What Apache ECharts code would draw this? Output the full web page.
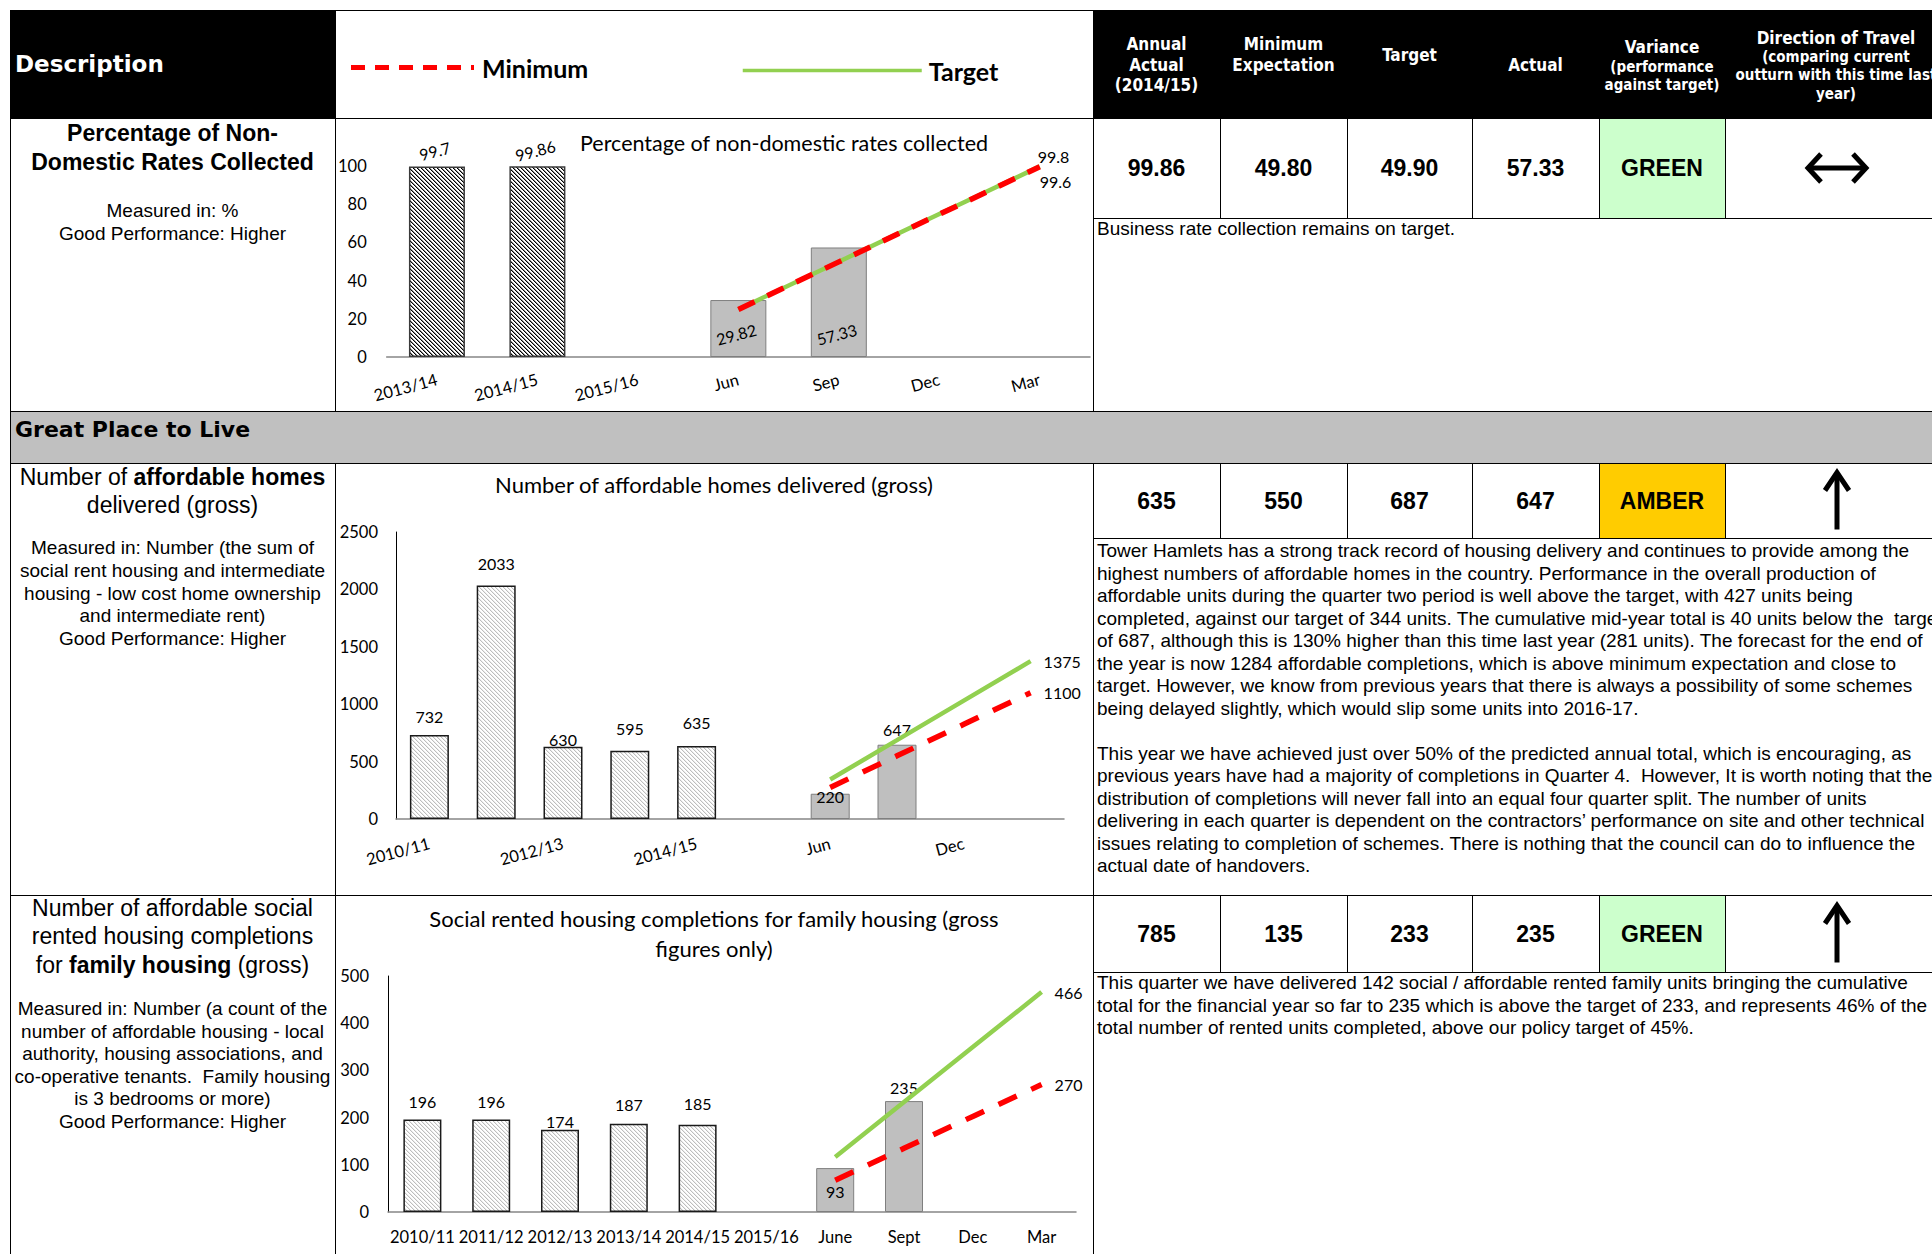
<!DOCTYPE html>
<html>
<head>
<meta charset="utf-8">
<script src="https://cdn.jsdelivr.net/npm/echarts@6/dist/echarts.min.js"></script>
<style>
html,body{margin:0;padding:0;background:#fff;}
body{width:1932px;height:1254px;overflow:hidden;position:relative;font-family:"Liberation Sans",Arial,sans-serif;color:#000;}
.ln{position:absolute;background:#000;z-index:20;}
.bg{position:absolute;z-index:1;}
.hd{position:absolute;color:#fff;font-family:"DejaVu Sans Condensed","DejaVu Sans",sans-serif;font-stretch:condensed;font-weight:bold;text-align:center;white-space:nowrap;z-index:5;line-height:20px;}
.val{position:absolute;font-weight:bold;font-size:23px;text-align:center;z-index:5;line-height:26px;white-space:nowrap;}
.dsc{position:absolute;left:10px;width:325px;text-align:center;white-space:pre;z-index:5;}
.cm{position:absolute;left:1097px;font-size:19px;line-height:22px;white-space:pre;z-index:5;}
.chart{position:absolute;z-index:10;}
.big{position:absolute;font-family:"DejaVu Sans",sans-serif;font-weight:bold;white-space:nowrap;z-index:5;}
</style>
</head>
<body>
<div id="c1" class="chart" style="left:335px;top:10px;width:758px;height:402px;"></div>
<div id="c2" class="chart" style="left:335px;top:463px;width:758px;height:432px;"></div>
<div id="c3" class="chart" style="left:335px;top:895px;width:758px;height:359px;"></div>
<script>
// ---------------- DATA ----------------
const rateCategories = ['2013/14', '2014/15', '2015/16', 'Jun', 'Sep', 'Dec', 'Mar'];
const rateAnnual = [99.7, 99.86, null, null, null, null, null];
const rateCurrent = [null, null, null, 29.82, 57.33, null, null];
const rateTarget = [null, null, null, 24.95, 49.9, 74.85, 99.8];
const rateMinimum = [null, null, null, 24.9, 49.8, 74.7, 99.6];

const homesCategories = ['2010/11', '2011/12', '2012/13', '2013/14', '2014/15', '2015/16', 'Jun', 'Sep', 'Dec', 'Mar'];
const homesAnnual = [732, 2033, 630, 595, 635, null, null, null, null, null];
const homesCurrent = [null, null, null, null, null, null, 220, 647, null, null];
const homesTarget = [null, null, null, null, null, null, 344, 687, 1031, 1375];
const homesMinimum = [null, null, null, null, null, null, 275, 550, 825, 1100];

const familyCategories = ['2010/11', '2011/12', '2012/13', '2013/14', '2014/15', '2015/16', 'June', 'Sept', 'Dec', 'Mar'];
const familyAnnual = [196, 196, 174, 187, 185, null, null, null, null, null];
const familyCurrent = [null, null, null, null, null, null, 93, 235, null, null];
const familyTarget = [null, null, null, null, null, null, 116.5, 233, 349.5, 466];
const familyMinimum = [null, null, null, null, null, null, 67.5, 135, 202.5, 270];

const chartTitles = [
  'Percentage of non-domestic rates collected',
  'Number of affordable homes delivered (gross)',
  'Social rented housing completions for family housing (gross\nfigures only)'
];
const legendNames = ['Minimum', 'Target'];

const tableHeaders = [
  ['Annual', 'Actual', '(2014/15)'],
  ['Minimum', 'Expectation'],
  ['Target'],
  ['Actual'],
  ['Variance', '(performance', 'against target)'],
  ['Direction of Travel', '(comparing current', 'outturn with this time last', 'year)']
];
const tableAnnualActual = ['99.86', '635', '785'];
const tableMinimum = ['49.80', '550', '135'];
const tableTarget = ['49.90', '687', '233'];
const tableActual = ['57.33', '647', '235'];
const tableVariance = ['GREEN', 'AMBER', 'GREEN'];
const tableDirection = ['same', 'up', 'up'];

const descTitles = [
  ['<b>Percentage of Non-</b>', '<b>Domestic Rates Collected</b>'],
  ['Number of <b>affordable homes</b>', 'delivered (gross)'],
  ['Number of affordable social', 'rented housing completions', 'for <b>family housing</b> (gross)']
];
const descSubs = [
  ['Measured in: %', 'Good Performance: Higher'],
  ['Measured in: Number (the sum of', 'social rent housing and intermediate', 'housing - low cost home ownership', 'and intermediate rent)', 'Good Performance: Higher'],
  ['Measured in: Number (a count of the', 'number of affordable housing - local', 'authority, housing associations, and', 'co-operative tenants.  Family housing', 'is 3 bedrooms or more)', 'Good Performance: Higher']
];
const comments = [
  ['Business rate collection remains on target.'],
  ['Tower Hamlets has a strong track record of housing delivery and continues to provide among the',
   'highest numbers of affordable homes in the country. Performance in the overall production of',
   'affordable units during the quarter two period is well above the target, with 427 units being',
   'completed, against our target of 344 units. The cumulative mid-year total is 40 units below the  target',
   'of 687, although this is 130% higher than this time last year (281 units). The forecast for the end of',
   'the year is now 1284 affordable completions, which is above minimum expectation and close to',
   'target. However, we know from previous years that there is always a possibility of some schemes',
   'being delayed slightly, which would slip some units into 2016-17.',
   '',
   'This year we have achieved just over 50% of the predicted annual total, which is encouraging, as',
   'previous years have had a majority of completions in Quarter 4.  However, It is worth noting that the',
   'distribution of completions will never fall into an equal four quarter split. The number of units',
   'delivering in each quarter is dependent on the contractors\u2019 performance on site and other technical',
   'issues relating to completion of schemes. There is nothing that the council can do to influence the',
   'actual date of handovers.'],
  ['This quarter we have delivered 142 social / affordable rented family units bringing the cumulative',
   'total for the financial year so far to 235 which is above the target of 233, and represents 46% of the',
   'total number of rented units completed, above our policy target of 45%.']
];
const sectionTitle = 'Great Place to Live';
const descriptionHeader = 'Description';

// ---------------- TABLE LAYOUT ----------------
const body = document.body;
function add(cls, style, html) {
  const d = document.createElement('div');
  d.className = cls; d.style.cssText = style; if (html != null) d.innerHTML = html;
  body.appendChild(d); return d;
}
const COLX = [1093, 1220, 1347, 1472, 1599, 1725, 1947];
const VALROWS = [[118, 218], [463, 538], [895, 972]];

// backgrounds
add('bg', 'left:10px;top:10px;width:325px;height:108px;background:#000;');
add('bg', 'left:1093px;top:10px;width:839px;height:108px;background:#000;');
add('bg', 'left:10px;top:412px;width:1922px;height:51px;background:#C0C0C0;');
tableVariance.forEach((v, i) => {
  const [t, b] = VALROWS[i];
  add('bg', `left:1599px;top:${t}px;width:126px;height:${b - t}px;background:${v === 'AMBER' ? '#FFCC00' : '#CCFFCC'};`);
});

// header texts
add('big', 'left:15px;top:50px;font-size:23px;line-height:28px;color:#fff;', descriptionHeader);
add('big', 'left:15px;top:416px;font-size:22px;line-height:28px;color:#000;', sectionTitle);
const headerCenters = [
  [44, 65, 85], [44, 65], [55], [65], [47, 66.5, 85], [38, 57, 75, 94]
];
const headerSizes = [
  [17, 17, 17], [17, 17], [17], [17], [17, 15, 15], [17, 15, 15, 15]
];
tableHeaders.forEach((lines, c) => {
  const cx = (COLX[c] + COLX[c + 1]) / 2;
  const w = COLX[c + 1] - COLX[c];
  lines.forEach((t, k) => {
    add('hd', `left:${cx - w / 2}px;width:${w}px;top:${headerCenters[c][k] - 10}px;font-size:${headerSizes[c][k]}px;`, t);
  });
});

// values
const valCols = [tableAnnualActual, tableMinimum, tableTarget, tableActual, tableVariance];
valCols.forEach((col, c) => {
  const cx = (COLX[c] + COLX[c + 1]) / 2;
  col.forEach((t, r) => {
    const [tp, bt] = VALROWS[r];
    add('val', `left:${cx - 63}px;width:126px;top:${(tp + bt) / 2 - 13}px;`, t);
  });
});

// descriptions (one div per line)
const descTitleTop = [120, 464, 895], descTitleLH = [28.5, 28, 28.3];
const descSubTop = [199.5, 537, 998], descSubLH = [23, 22.8, 22.6];
descTitles.forEach((lines, r) => {
  lines.forEach((t, k) => add('dsc', `top:${descTitleTop[r] + k * descTitleLH[r]}px;font-size:23px;line-height:${descTitleLH[r] - 2}px;`, t));
  descSubs[r].forEach((t, k) => {
    const d = add('dsc', `top:${descSubTop[r] + k * descSubLH[r]}px;font-size:19px;line-height:${descSubLH[r] - 1}px;`);
    d.textContent = t;
  });
});

// comments (one div per line)
const commentTop = [218, 540, 972], commentLH = [22.5, 22.5, 22.7];
comments.forEach((lines, r) => {
  lines.forEach((t, k) => {
    if (!t) return;
    const d = add('cm', `top:${commentTop[r] + k * commentLH[r]}px;`);
    d.textContent = t;
  });
});

// border lines
function hline(y, x1, x2) { add('ln', `left:${x1}px;top:${y}px;width:${x2 - x1}px;height:1px;`); }
function vline(x, y1, y2) { add('ln', `left:${x}px;top:${y1}px;width:1px;height:${y2 - y1}px;`); }
hline(10, 10, 1932); hline(118, 10, 1932); hline(411, 10, 1932); hline(463, 10, 1932); hline(895, 10, 1932);
VALROWS.forEach(([t, b]) => { hline(b, 1093, 1932); });
vline(10, 10, 1254);
[335, 1093].forEach(x => { vline(x, 10, 412); vline(x, 463, 1254); });
VALROWS.forEach(([t, b]) => { [1220, 1347, 1472, 1599, 1725].forEach(x => vline(x, t, b)); });

// direction arrows
const svgNS = 'http://www.w3.org/2000/svg';
const svg = document.createElementNS(svgNS, 'svg');
svg.setAttribute('width', '1932'); svg.setAttribute('height', '1254');
svg.style.cssText = 'position:absolute;left:0;top:0;z-index:15;pointer-events:none;';
function pth(d) {
  const p = document.createElementNS(svgNS, 'path');
  p.setAttribute('d', d); p.setAttribute('fill', 'none'); p.setAttribute('stroke', '#000');
  p.setAttribute('stroke-width', '5'); p.setAttribute('stroke-linejoin', 'miter');
  svg.appendChild(p);
}
tableDirection.forEach((dir, r) => {
  const [t, b] = VALROWS[r];
  const cx = 1837, cy = (t + b) / 2;
  if (dir === 'same') {
    pth(`M${cx - 27} ${cy} L${cx + 27} ${cy}`);
    pth(`M${cx - 16} ${cy - 14} L${cx - 29} ${cy} L${cx - 16} ${cy + 14}`);
    pth(`M${cx + 16} ${cy - 14} L${cx + 29} ${cy} L${cx + 16} ${cy + 14}`);
  } else {
    pth(`M${cx} ${cy - 27} L${cx} ${cy + 29}`);
    pth(`M${cx - 12} ${cy - 10} L${cx} ${cy - 28} L${cx + 12} ${cy - 10}`);
  }
});
body.appendChild(svg);

// ---------------- CHARTS ----------------
const FONT = 'Lato, "Open Sans", sans-serif';
function hatch(c1, c2) {
  const cv = document.createElement('canvas'); cv.width = 4; cv.height = 4;
  const g = cv.getContext('2d'); g.fillStyle = '#fff'; g.fillRect(0, 0, 4, 4);
  for (let y = 0; y < 4; y++) for (let x = 0; x < 4; x++) {
    const d = ((x - y) % 4 + 4) % 4;
    if (d === 0) { g.fillStyle = c1; g.fillRect(x, y, 1, 1); }
    else if (d === 1 && c2) { g.fillStyle = c2; g.fillRect(x, y, 1, 1); }
  }
  return { image: cv.toDataURL(), repeat: 'repeat', imageWidth: 4, imageHeight: 4 };
}
const hatchDark = hatch('#000000', '#8a8a8a');
const hatchLight = hatch('#bdbdbd', '#ededed');

function withDist(values, dists) {
  return values.map((v, i) => (v == null ? null : (dists && dists[i] != null ? { value: v, label: { distance: dists[i] } } : v)));
}
const txt = { fontFamily: FONT, color: '#000' };

function buildOption(cfg) {
  return {
    animation: false,
    title: Object.assign({ text: cfg.title, textStyle: { fontFamily: FONT, fontWeight: 'normal', fontSize: cfg.titleSize, color: '#000', lineHeight: 29.5 } }, cfg.titlePos),
    legend: cfg.legend || [],
    grid: cfg.grid,
    xAxis: {
      type: 'category', data: cfg.categories,
      axisTick: { show: false },
      axisLine: { show: true, lineStyle: { color: '#868686', width: 1.5 } },
      axisLabel: Object.assign({ fontSize: 16.5 }, txt, cfg.xLabel)
    },
    yAxis: {
      type: 'value', min: 0, max: cfg.max, interval: cfg.interval,
      splitLine: { show: false }, axisTick: { show: false },
      axisLine: { show: cfg.yLine, lineStyle: { color: '#000', width: 1 } },
      axisLabel: Object.assign({ fontSize: 16.5, margin: cfg.yMargin, formatter: v => String(v) }, txt)
    },
    series: [
      {
        type: 'bar', name: 'Annual', data: withDist(cfg.annual, cfg.annualDist), barWidth: cfg.barWidth, barGap: '-100%',
        itemStyle: { color: cfg.hatch, borderColor: cfg.hatchBorder, borderWidth: 1.5 },
        label: Object.assign({ show: true, position: 'top', fontSize: 16 }, txt, cfg.annualLabel)
      },
      {
        type: 'bar', name: 'Current', data: withDist(cfg.current, cfg.currentDist), barWidth: cfg.barWidth, barGap: '-100%',
        itemStyle: { color: '#BFBFBF', borderColor: '#7F7F7F', borderWidth: 1 },
        label: Object.assign({ show: true, position: 'top', fontSize: 16 }, txt, cfg.currentLabel)
      },
      {
        type: 'line', name: 'Target', data: cfg.target, symbol: 'none', connectNulls: true, z: 3,
        lineStyle: { color: '#92D050', width: 4.5 }, itemStyle: { color: '#92D050' },
        endLabel: Object.assign({ show: true, formatter: p => String(p.value), fontSize: 16 }, txt, { offset: cfg.targetOff })
      },
      {
        type: 'line', name: 'Minimum', data: cfg.minimum, symbol: 'none', connectNulls: true, z: 4,
        lineStyle: { color: '#FF0000', width: 5.5, type: cfg.dash }, itemStyle: { color: '#FF0000' },
        endLabel: Object.assign({ show: true, formatter: p => String(p.value), fontSize: 16 }, txt, { offset: cfg.minOff })
      }
    ]
  };
}

const legendText = { fontFamily: FONT, fontWeight: 'bold', fontSize: 25, color: '#000' };
const opt1 = buildOption({
  title: chartTitles[0], titleSize: 21.5, titlePos: { left: 240, top: 113 },
  legend: [
    { data: [legendNames[0]], left: 13.5, top: 45, padding: 0, itemWidth: 123, itemHeight: 14, selectedMode: false,
      itemStyle: { opacity: 0 },
      textStyle: Object.assign({ padding: [10, 0, 0, 3] }, legendText), lineStyle: { width: 5, type: [14, 10] } },
    { data: [legendNames[1]], left: 406, top: 48, padding: 0, itemWidth: 179, itemHeight: 14, selectedMode: false,
      itemStyle: { opacity: 0 },
      textStyle: Object.assign({ padding: [14, 0, 0, 2] }, legendText), lineStyle: { width: 3.5 } }
  ],
  grid: { left: 50, top: 156, width: 705, height: 191 },
  categories: rateCategories, max: 100, interval: 20, yLine: false, yMargin: 20,
  xLabel: { rotate: 15, margin: 22, interval: 0 },
  annual: rateAnnual, current: rateCurrent, target: rateTarget, minimum: rateMinimum,
  barWidth: 56, hatch: hatchDark, hatchBorder: '#3a3a3a', dash: [18, 14],
  annualLabel: { rotate: 15, distance: 8 },
  currentLabel: { rotate: 15, position: 'insideBottom', distance: 15 },
  targetOff: [-10, -10], minOff: [-8, 15]
});
const opt2 = buildOption({
  title: chartTitles[1], titleSize: 22, titlePos: { left: 'center', top: 2 },
  grid: { left: 61, top: 69, width: 668, height: 287 },
  categories: homesCategories, max: 2500, interval: 500, yLine: true, yMargin: 18,
  xLabel: { rotate: 15, margin: 24, interval: 1 },
  annual: homesAnnual, current: homesCurrent, target: homesTarget, minimum: homesMinimum,
  annualDist: [10, 14, -1, 14, 16], currentDist: [null, null, null, null, null, null, -11, 7],
  barWidth: 39, hatch: hatchLight, hatchBorder: '#1a1a1a', dash: [20, 16],
  annualLabel: {}, currentLabel: {},
  targetOff: [5, 0], minOff: [5, 0]
});
const opt3 = buildOption({
  title: chartTitles[2], titleSize: 22, titlePos: { left: 'center', top: 4 },
  grid: { left: 53, top: 81, width: 688, height: 236 },
  categories: familyCategories, max: 500, interval: 100, yLine: true, yMargin: 19,
  xLabel: { rotate: 0, margin: 16, interval: 0 },
  annual: familyAnnual, current: familyCurrent, target: familyTarget, minimum: familyMinimum,
  annualDist: [10, 10, 0, 11, 13], currentDist: [null, null, null, null, null, null, -31, 6],
  barWidth: 38, hatch: hatchLight, hatchBorder: '#1a1a1a', dash: [20, 16],
  annualLabel: {}, currentLabel: {},
  targetOff: [5, 0], minOff: [5, 0]
});
[['c1', opt1], ['c2', opt2], ['c3', opt3]].forEach(([id, o]) => {
  const ch = echarts.init(document.getElementById(id), null, { renderer: 'svg' });
  ch.setOption(o);
});
</script>
</body>
</html>
